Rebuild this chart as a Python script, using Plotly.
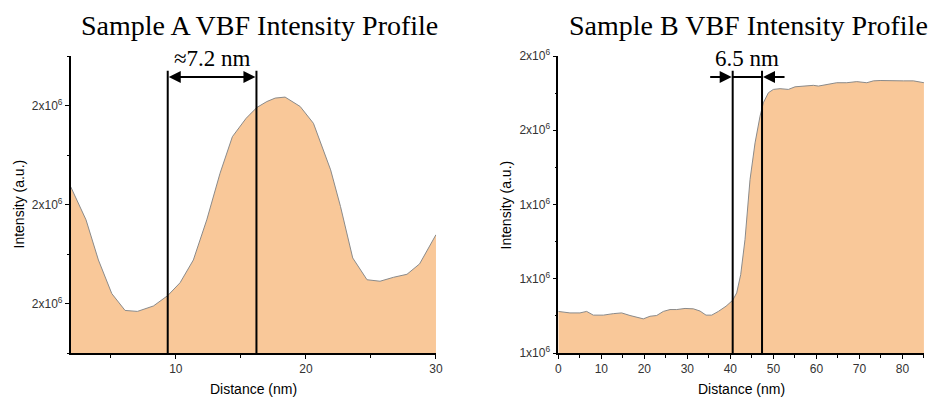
import plotly.graph_objects as go

# ---- Sample A data ----
a_x = [1.92, 3.1, 4.05, 5.08, 6.1, 7.05, 8.28, 9.38, 10.33, 11.35, 12.38, 13.4, 14.35,
       15.4, 16.23, 17.0, 17.64, 18.4, 19.56, 20.58, 21.9, 22.66, 23.6, 24.7, 25.7,
       26.74, 27.77, 28.74, 30.0]
a_y = [2.036e6, 1.969e6, 1.888e6, 1.820e6, 1.786e6, 1.784e6, 1.795e6, 1.816e6, 1.842e6,
       1.888e6, 1.969e6, 2.063e6, 2.137e6, 2.174e6, 2.196e6, 2.208e6, 2.215e6, 2.217e6,
       2.198e6, 2.164e6, 2.070e6, 1.996e6, 1.892e6, 1.848e6, 1.845e6, 1.853e6, 1.859e6,
       1.880e6, 1.939e6]
a_lines = [9.38, 16.2]
a_label = "≈7.2 nm"
a_yticks = [1.8e6, 2.0e6, 2.2e6]
a_yticktext = ["2x10<sup>6</sup>", "2x10<sup>6</sup>", "2x10<sup>6</sup>"]

# ---- Sample B data ----
b_x = [0, 2.71, 5.04, 6.59, 8.14, 10.47, 12.79, 14.73, 16.67, 18.22, 19.77, 21.32, 22.87,
       24.42, 25.97, 27.52, 29.46, 31.40, 32.95, 34.34, 35.66, 37.21, 38.99, 40.54, 41.47,
       42.40, 43.41, 44.57, 45.74, 46.90, 47.67, 48.84, 50.0, 51.55, 53.49, 55.04, 56.98,
       59.30, 60.47, 62.40, 64.73, 67.05, 69.38, 71.71, 73.26, 74.81, 77.13, 80.23, 82.56, 85.0]
b_y = [1.112e6, 1.108e6, 1.108e6, 1.112e6, 1.102e6, 1.102e6, 1.106e6, 1.108e6, 1.101e6,
       1.097e6, 1.092e6, 1.099e6, 1.101e6, 1.112e6, 1.117e6, 1.117e6, 1.120e6, 1.119e6,
       1.113e6, 1.102e6, 1.102e6, 1.112e6, 1.126e6, 1.142e6, 1.162e6, 1.211e6, 1.306e6,
       1.467e6, 1.566e6, 1.638e6, 1.674e6, 1.701e6, 1.710e6, 1.712e6, 1.710e6, 1.717e6,
       1.719e6, 1.721e6, 1.719e6, 1.724e6, 1.728e6, 1.728e6, 1.731e6, 1.728e6, 1.733e6,
       1.734e6, 1.733e6, 1.733e6, 1.733e6, 1.728e6]
b_lines = [40.54, 47.36]
b_label = "6.5 nm"
b_yticks = [1.0e6, 1.2e6, 1.4e6, 1.6e6, 1.8e6]
b_yticktext = ["1x10<sup>6</sup>", "1x10<sup>6</sup>", "1x10<sup>6</sup>",
               "2x10<sup>6</sup>", "2x10<sup>6</sup>"]

titles = ["Sample A VBF Intensity Profile", "Sample B VBF Intensity Profile"]
x_title = "Distance (nm)"
y_title = "Intensity (a.u.)"

FILL = "#F9C899"
EDGE = "#8a8a8a"
SANS = "Liberation Sans, Arial, sans-serif"
SERIF = "Liberation Serif, Times New Roman, serif"

fig = go.Figure()
fig.add_trace(go.Scatter(x=a_x, y=a_y, mode="lines", fill="tozeroy", fillcolor=FILL,
                         line=dict(color=EDGE, width=1), xaxis="x", yaxis="y",
                         showlegend=False, hoverinfo="skip"))
fig.add_trace(go.Scatter(x=b_x, y=b_y, mode="lines", fill="tozeroy", fillcolor=FILL,
                         line=dict(color=EDGE, width=1), xaxis="x2", yaxis="y2",
                         showlegend=False, hoverinfo="skip"))

ax_common = dict(showline=True, linecolor="black", linewidth=1.5, ticks="outside",
                 ticklen=4, tickwidth=1.2, tickcolor="black", showgrid=False, zeroline=False,
                 tickfont=dict(family=SANS, size=12, color="#333333"), mirror=False,
                 automargin=False)

ydom = [0.1175, 0.86]
fig.update_layout(
    width=930, height=400, margin=dict(l=0, r=0, t=0, b=0, autoexpand=False),
    plot_bgcolor="white", paper_bgcolor="white",
    xaxis=dict(domain=[0.076, 0.4688], anchor="y", range=[1.92, 30],
               tickvals=[10, 20, 30], minor=dict(dtick=5, tick0=0, ticks="outside", ticklen=3,
                                                 tickcolor="black"), **ax_common),
    yaxis=dict(domain=ydom, anchor="x", range=[1.70e6, 2.30e6], tickvals=a_yticks,
               ticktext=a_yticktext, minor=dict(dtick=1e5, tick0=0, ticks="outside", ticklen=2,
                                               tickcolor="black"), **ax_common),
    xaxis2=dict(domain=[0.6003, 0.9935], anchor="y2", range=[0, 85],
                tickvals=[0, 10, 20, 30, 40, 50, 60, 70, 80],
                minor=dict(dtick=5, tick0=0, ticks="outside", ticklen=3, tickcolor="black"),
                **ax_common),
    yaxis2=dict(domain=ydom, anchor="x2", range=[1.0e6, 1.8e6], tickvals=b_yticks,
                ticktext=b_yticktext, minor=dict(dtick=1e5, tick0=0, ticks="outside", ticklen=2,
                                                tickcolor="black"), **ax_common),
)

shapes = []
annotations = []
# vertical marker lines
for xv in a_lines:
    shapes.append(dict(type="line", xref="x", yref="y domain", x0=xv, x1=xv, y0=0, y1=0.95,
                       line=dict(color="black", width=2)))
for xv in b_lines:
    shapes.append(dict(type="line", xref="x2", yref="y2 domain", x0=xv, x1=xv, y0=0, y1=0.95,
                       line=dict(color="black", width=2)))

arrow_y = 0.929
# Sample A double arrow (heads pointing outward to the lines)
shapes.append(dict(type="line", xref="x", yref="y domain", x0=a_lines[0] + 0.5,
                   x1=a_lines[1] - 0.5, y0=arrow_y, y1=arrow_y,
                   line=dict(color="black", width=2)))
half = (a_lines[1] - a_lines[0]) / 2 * 13.0
annotations.append(dict(x=a_lines[0], y=arrow_y, xref="x", yref="y domain", ax=half, ay=0,
                        text="", showarrow=True, arrowhead=2,
                        arrowsize=1.2, arrowwidth=2, arrowcolor="black", standoff=1))
annotations.append(dict(x=a_lines[1], y=arrow_y, xref="x", yref="y domain", ax=-half, ay=0,
                        text="", showarrow=True, arrowhead=2, arrowsize=1.2, arrowwidth=2,
                        arrowcolor="black", standoff=1))
annotations.append(dict(x=sum(a_lines) / 2, y=0.99, xref="x", yref="y domain", text=a_label,
                        showarrow=False, font=dict(family=SERIF, size=23, color="black"),
                        xanchor="center", yanchor="middle"))
# Sample B arrows pointing inward
shapes.append(dict(type="line", xref="x2", yref="y2 domain", x0=b_lines[0], x1=b_lines[1],
                   y0=arrow_y, y1=arrow_y, line=dict(color="black", width=2)))
annotations.append(dict(x=b_lines[0], y=arrow_y, xref="x2", yref="y2 domain", ax=-24, ay=0,
                        text="", showarrow=True, arrowhead=2, arrowsize=1.2, arrowwidth=2,
                        arrowcolor="black", standoff=1))
annotations.append(dict(x=b_lines[1], y=arrow_y, xref="x2", yref="y2 domain", ax=24, ay=0,
                        text="", showarrow=True, arrowhead=2, arrowsize=1.2, arrowwidth=2,
                        arrowcolor="black", standoff=1))
annotations.append(dict(x=sum(b_lines) / 2, y=0.99, xref="x2", yref="y2 domain", text=b_label,
                        showarrow=False, font=dict(family=SERIF, size=23, color="black"),
                        xanchor="center", yanchor="middle"))

# titles
for xc, t in zip([259 / 930, 748 / 930], titles):
    annotations.append(dict(x=xc, y=1 - 25 / 400, xref="paper", yref="paper", text=t,
                            showarrow=False, font=dict(family=SERIF, size=28, color="black"),
                            xanchor="center", yanchor="middle"))
# axis titles
for xc in [253 / 930, 741 / 930]:
    annotations.append(dict(x=xc, y=1 - 389 / 400, xref="paper", yref="paper", text=x_title,
                            showarrow=False, font=dict(family=SANS, size=14, color="black"),
                            xanchor="center", yanchor="middle"))
for xc in [18 / 930, 505 / 930]:
    annotations.append(dict(x=xc, y=(0.1175 + 0.86) / 2, xref="paper", yref="paper", text=y_title,
                            showarrow=False, textangle=-90,
                            font=dict(family=SANS, size=14, color="black"),
                            xanchor="center", yanchor="middle"))

fig.update_layout(shapes=shapes, annotations=annotations)
fig.write_html("out.html", config={"displayModeBar": False},
               post_script="document.body.style.margin='0';document.body.style.overflow='hidden';")
